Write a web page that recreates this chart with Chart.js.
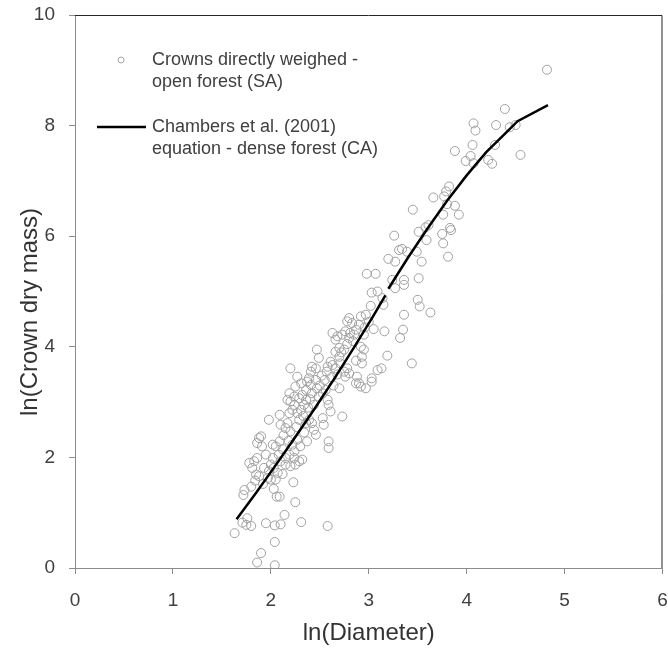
<!DOCTYPE html>
<html>
<head>
<meta charset="utf-8">
<script src="https://cdn.jsdelivr.net/npm/chart.js@4/dist/chart.umd.min.js"></script>
<style>
    html, body { margin: 0; padding: 0; background: #ffffff; }
    #wrap { position: relative; width: 668px; height: 665px; }
</style>
</head>
<body>
<div id="wrap"><canvas id="chart"></canvas></div>
<script>
// Crowns directly weighed - open forest (SA)
const lnDiameter = [
    1.63, 1.71, 1.75, 1.80, 1.76, 1.95, 2.04, 2.10, 2.14, 2.31, 2.58, 2.04, 1.90, 1.86, 2.04,
    2.25, 2.23, 2.06, 2.09, 2.03, 1.72, 1.73, 1.80, 1.88, 1.85, 1.93, 1.81, 1.78, 1.83, 1.86,
    1.97, 2.00, 2.05, 2.00, 2.03, 2.07, 2.02, 2.10, 2.15, 2.20, 2.25, 2.29, 2.32, 2.15, 2.19,
    2.24, 1.88, 1.86, 1.91, 1.90, 2.02, 2.05, 2.09, 2.22, 2.27, 2.24, 2.37, 2.46, 2.44, 2.59,
    2.59, 2.54, 2.53, 2.36, 2.39, 2.42, 2.73, 1.98, 2.09, 2.10, 2.15, 2.20, 2.19, 2.22, 2.27,
    2.31, 2.24, 2.20, 2.19, 2.24, 2.17, 2.29, 2.32, 2.36, 2.36, 2.41, 2.42, 2.47, 2.49, 2.53,
    2.56, 2.58, 2.59, 2.61, 2.25, 2.31, 2.37, 2.87, 2.92, 2.97, 3.03,
    1.95, 1.98, 2.08, 2.12, 2.13, 2.18, 2.17, 2.26, 2.29, 2.33, 2.34, 2.38, 2.40, 2.44, 2.46,
    2.50, 2.52, 2.55, 2.57, 2.62, 2.64, 2.68, 2.70, 2.72, 2.78, 2.84, 2.87, 2.90, 2.96, 3.00,
    2.30, 2.34, 2.12, 1.92, 1.84,
    2.98, 3.07, 3.03, 3.09, 3.02, 2.92, 2.97, 2.80, 2.78, 2.83, 3.05, 2.63, 2.68, 2.73, 2.76,
    2.81, 2.87, 2.66, 2.80, 2.85, 2.92, 2.95, 2.93, 2.93, 2.70, 2.75, 2.66, 2.70, 2.47, 2.49,
    2.61, 2.63, 2.58, 2.66, 2.71, 2.75, 2.78, 2.80, 2.76, 2.88, 2.90, 3.03, 3.09, 2.20, 2.27,
    2.42, 2.46, 2.41, 2.39,
    3.45, 3.66, 3.58, 3.51, 3.84, 3.75, 3.76, 3.59, 3.49, 3.54, 3.26, 3.31, 3.34, 3.39, 3.20,
    3.27, 3.81, 3.51, 3.24, 3.27, 3.36, 3.36, 3.14, 3.15, 3.50, 3.52, 3.63, 3.36, 3.35, 3.32,
    3.16, 3.19, 3.44, 3.13, 2.95,
    4.82, 4.39, 4.07, 4.09, 4.30, 4.44, 4.50, 4.06, 4.29, 3.88, 4.55, 4.04, 3.99, 4.07, 4.22,
    4.26, 3.82, 3.79, 3.77, 3.80, 3.88, 3.76, 3.92, 3.61, 3.83,
];
const lnCrownMass = [
    0.63, 0.82, 0.78, 0.76, 0.90, 0.81, 0.77, 0.79, 0.96, 0.83, 0.76, 0.47, 0.27, 0.10, 0.05,
    1.19, 1.55, 1.29, 1.29, 1.43, 1.32, 1.41, 1.47, 1.66, 1.69, 1.81, 1.81, 1.90, 1.93, 1.99,
    1.63, 1.60, 1.60, 1.87, 1.81, 1.72, 1.99, 1.93, 1.87, 1.84, 1.87, 1.93, 1.96, 1.99, 2.05,
    1.99, 2.35, 2.26, 2.20, 2.38, 2.23, 2.20, 2.29, 2.23, 2.32, 2.11, 2.29, 2.41, 2.50, 2.29,
    2.17, 2.59, 2.71, 2.62, 2.68, 2.62, 2.74, 2.68, 2.77, 2.59, 2.53, 2.47, 2.80, 2.86, 2.80,
    2.86, 2.95, 3.01, 3.16, 3.10, 3.04, 3.07, 3.13, 3.04, 3.22, 3.31, 3.16, 3.25, 3.10, 3.16,
    3.22, 3.04, 2.95, 2.83, 3.28, 3.34, 3.37, 3.34, 3.28, 3.25, 3.37,
    2.05, 1.75, 2.05, 2.15, 2.40, 2.30, 2.62, 2.55, 2.68, 2.75, 2.95, 2.90, 3.05, 2.95, 3.40,
    3.30, 3.48, 3.40, 3.55, 3.45, 3.30, 3.50, 3.25, 3.90, 4.05, 4.10, 3.75, 4.40, 4.35, 4.45,
    2.20, 2.45, 1.70, 1.52, 1.58,
    5.32, 5.32, 4.98, 5.00, 4.74, 4.55, 4.58, 4.52, 4.46, 4.43, 4.32, 4.25, 4.19, 4.22, 4.28,
    4.25, 4.31, 4.13, 4.16, 4.22, 4.00, 3.95, 3.82, 3.70, 3.98, 3.95, 3.91, 3.82, 3.95, 3.80,
    3.73, 3.67, 3.64, 3.61, 3.70, 3.55, 3.61, 3.52, 3.46, 3.46, 3.34, 3.43, 3.58, 3.61, 3.46,
    3.64, 3.61, 3.55, 3.43,
    6.48, 6.70, 6.16, 6.08, 6.11, 6.04, 5.87, 5.93, 5.72, 5.54, 6.01, 5.75, 5.77, 5.72, 5.59,
    5.54, 5.63, 5.24, 5.21, 5.06, 5.21, 5.12, 4.88, 4.76, 4.85, 4.73, 4.62, 4.58, 4.31, 4.16,
    4.28, 3.84, 3.70, 3.61, 4.22,
    9.01, 8.30, 8.04, 7.91, 8.01, 7.97, 8.01, 7.65, 7.65, 7.54, 7.47, 7.45, 7.36, 7.32, 7.38,
    7.31, 6.90, 6.81, 6.72, 6.58, 6.55, 6.39, 6.39, 6.20, 6.15,
];

// Chambers et al. (2001) equation - dense forest (CA)
const equationLnD = [1.65, 1.85, 2.05, 2.25, 2.45, 2.65, 2.85, 3.05, 3.17, 3.185, 3.20, 3.40, 3.60, 3.80, 4.00, 4.20, 4.40, 4.52, 4.83];
const equationLnMass = [0.88, 1.36, 1.86, 2.37, 2.89, 3.43, 3.99, 4.57, 4.93, null, 5.05, 5.61, 6.14, 6.64, 7.10, 7.52, 7.87, 8.08, 8.37];

const xTickValues = [0, 1, 2, 3, 4, 5, 6];
const yTickValues = [0, 2, 4, 6, 8, 10];

const seriesLabels = [
    ['Crowns directly weighed -', 'open forest (SA)'],
    ['Chambers et al. (2001)', 'equation - dense forest (CA)'],
];
const xTitle = 'ln(Diameter)';
const yTitle = 'ln(Crown dry mass)';

const FONT = "'Liberation Sans', Arial, sans-serif";
const AXIS_GRAY = '#8c8c8c';
const TEXT = '#404040';

function toPoints(xs, ys) {
    return xs.map((x, i) => ({ x: x, y: ys[i] }));
}

const framePlugin = {
    id: 'frame',
    afterDraw(chart) {
        const { ctx, chartArea } = chart;
        ctx.save();
        ctx.strokeStyle = '#262626';
        ctx.lineWidth = 1;
        ctx.beginPath();
        ctx.moveTo(chartArea.left, chartArea.top + 0.5);
        ctx.lineTo(chartArea.right - 0.5, chartArea.top + 0.5);
        ctx.lineTo(chartArea.right - 0.5, chartArea.bottom);
        ctx.stroke();

        // axis titles
        ctx.fillStyle = '#333333';
        ctx.font = '24px ' + FONT;
        ctx.textAlign = 'center';
        ctx.textBaseline = 'middle';
        ctx.fillText(xTitle, (chartArea.left + chartArea.right) / 2, 633);
        ctx.translate(30, 312);
        ctx.rotate(-Math.PI / 2);
        ctx.fillText(yTitle, 0, 0);
        ctx.restore();
    },
};

const legendPlugin = {
    id: 'innerLegend',
    afterDraw(chart) {
        const { ctx } = chart;
        ctx.save();
        ctx.font = '18px ' + FONT;
        ctx.fillStyle = TEXT;
        ctx.textAlign = 'left';
        ctx.textBaseline = 'middle';

        ctx.strokeStyle = '#a6a6a6';
        ctx.lineWidth = 1;
        ctx.beginPath();
        ctx.arc(121, 60, 3, 0, Math.PI * 2);
        ctx.stroke();
        seriesLabels[0].forEach((line, i) => ctx.fillText(line, 152, 60 + i * 22));

        ctx.strokeStyle = '#000000';
        ctx.lineWidth = 2.5;
        ctx.beginPath();
        ctx.moveTo(97, 127);
        ctx.lineTo(146, 127);
        ctx.stroke();
        seriesLabels[1].forEach((line, i) => ctx.fillText(line, 152, 127 + i * 22));
        ctx.restore();
    },
};

const tickFont = { family: FONT, size: 19 };

new Chart(document.getElementById('chart'), {
    type: 'scatter',
    data: {
        datasets: [
            {
                label: seriesLabels[1].join(' '),
                data: toPoints(equationLnD, equationLnMass),
                showLine: true,
                spanGaps: false,
                borderColor: '#000000',
                borderWidth: 2.5,
                pointRadius: 0,
                tension: 0,
                order: 0,
            },
            {
                label: seriesLabels[0].join(' '),
                data: toPoints(lnDiameter, lnCrownMass),
                showLine: false,
                pointStyle: 'circle',
                pointRadius: 4.5,
                pointBorderWidth: 1,
                pointBorderColor: '#a0a0a0',
                pointBackgroundColor: 'rgba(255,255,255,0)',
                order: 1,
            },
        ],
    },
    options: {
        responsive: true,
        maintainAspectRatio: false,
        animation: false,
        layout: {
            padding: { left: 0, top: 15, right: 4, bottom: 0 },
        },
        plugins: {
            legend: { display: false },
            tooltip: { enabled: false },
        },
        scales: {
            x: {
                type: 'linear',
                min: 0,
                max: 6,
                afterBuildTicks(scale) {
                    scale.ticks = xTickValues.map((v) => ({ value: v }));
                },
                afterFit(scale) {
                    scale.height = 97;
                    scale.paddingLeft = 0;
                    scale.paddingRight = 0;
                },
                ticks: {
                    color: TEXT,
                    font: tickFont,
                    padding: 15,
                    maxRotation: 0,
                },
                grid: {
                    drawOnChartArea: false,
                    drawTicks: true,
                    tickLength: 6,
                    color: AXIS_GRAY,
                },
                border: { display: true, color: AXIS_GRAY, width: 1 },
            },
            y: {
                type: 'linear',
                min: 0,
                max: 10,
                afterBuildTicks(scale) {
                    scale.ticks = yTickValues.map((v) => ({ value: v }));
                },
                afterFit(scale) {
                    scale.width = 75;
                    scale.paddingTop = 0;
                    scale.paddingBottom = 0;
                },
                ticks: {
                    color: TEXT,
                    font: tickFont,
                    padding: 14,
                },
                grid: {
                    drawOnChartArea: false,
                    drawTicks: true,
                    tickLength: 6,
                    color: AXIS_GRAY,
                },
                border: { display: true, color: AXIS_GRAY, width: 1 },
            },
        },
    },
    plugins: [framePlugin, legendPlugin],
});
</script>
</body>
</html>
